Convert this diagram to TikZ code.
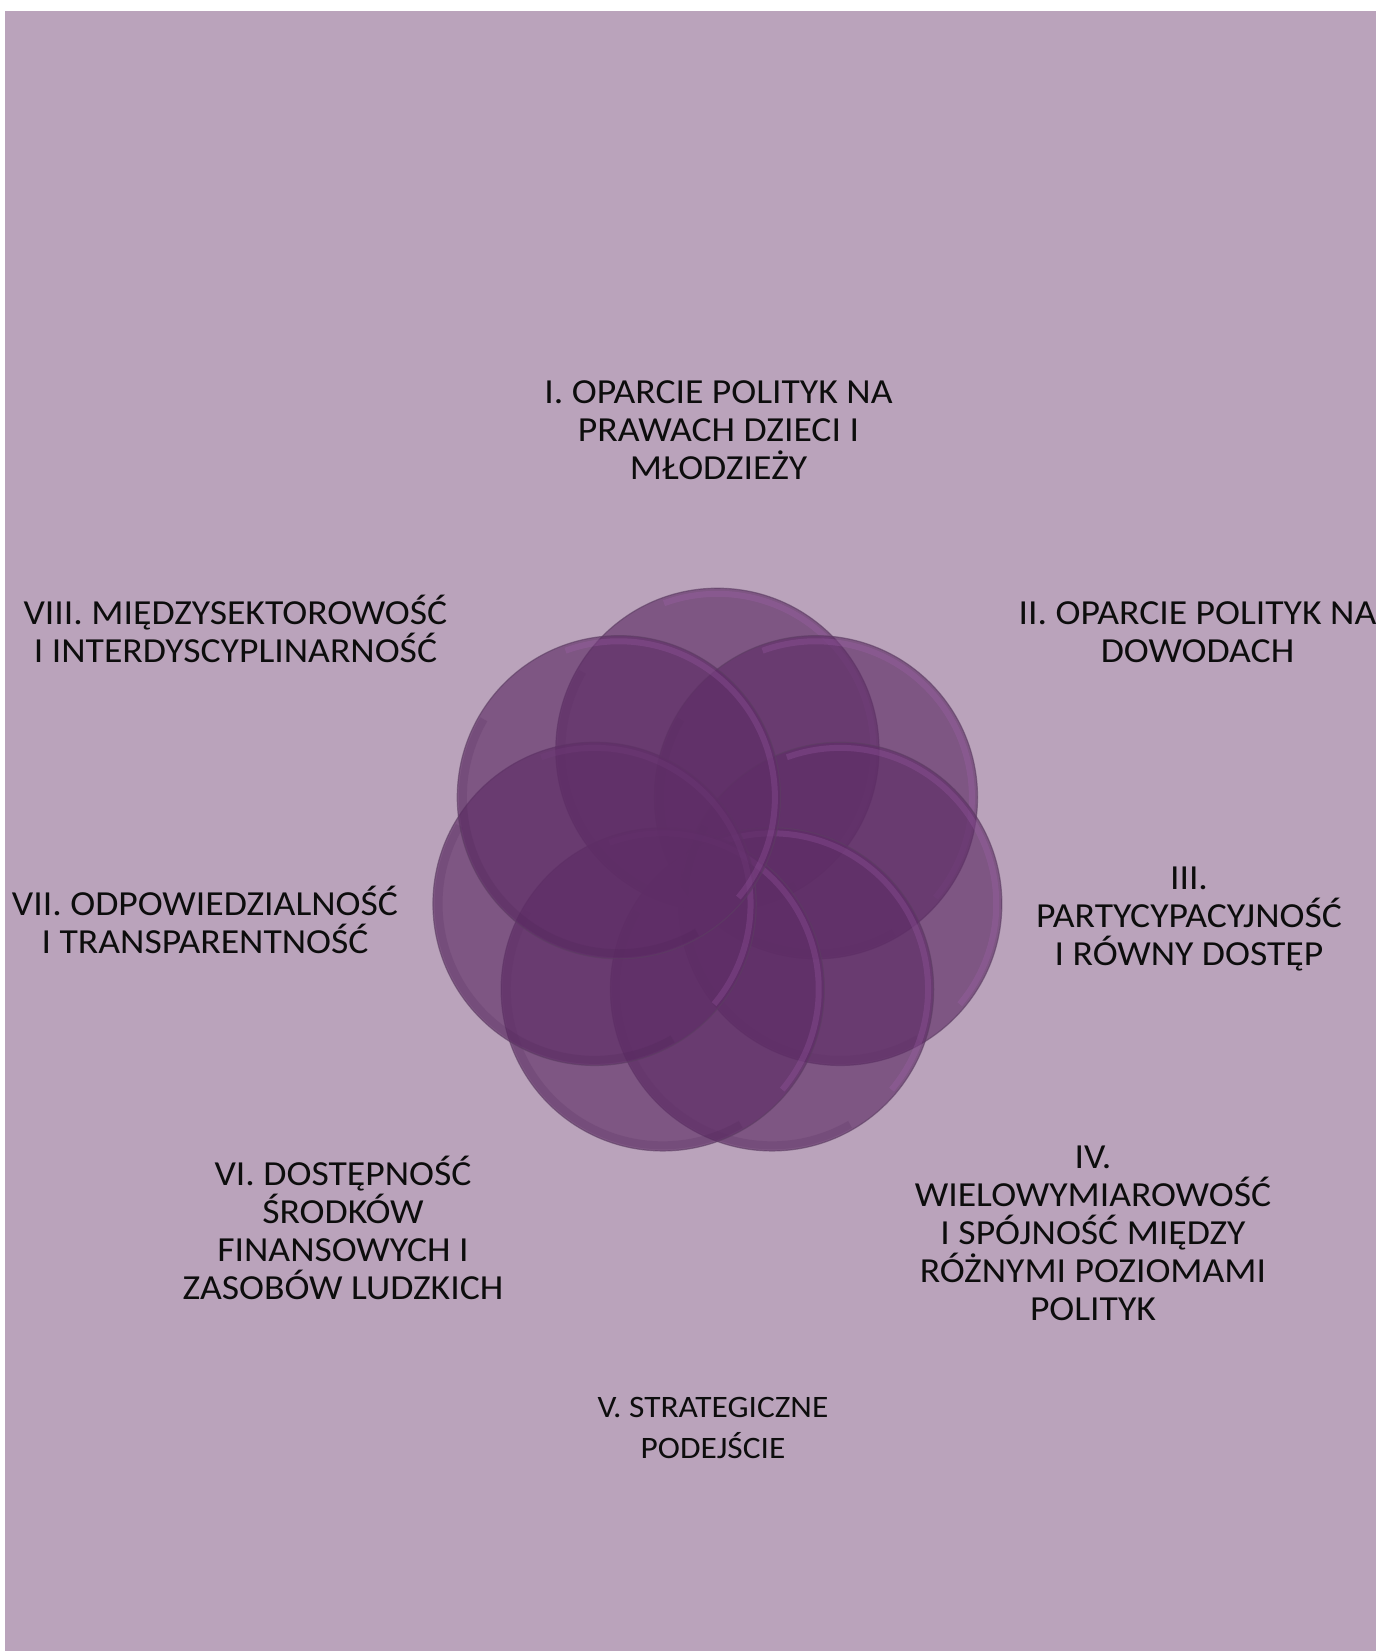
\documentclass[tikz,border=0pt]{standalone}
\usepackage{fontspec}
\setmainfont{Carlito}[FakeStretch=1.07]
\usepackage{tikz}
\usetikzlibrary{calc}
\definecolor{slidebg}{RGB}{186,163,187}
\definecolor{petalfill}{RGB}{94,45,102}
\definecolor{petalrim}{RGB}{92,62,98}
\definecolor{petalglow}{RGB}{176,104,188}
\definecolor{petalshade}{RGB}{70,30,78}
\definecolor{labeltext}{RGB}{13,13,13}

\begin{document}
\begin{tikzpicture}[
    x=0.5pt, y=-0.5pt,
    petal/.style={circle, minimum size=161.6pt, inner sep=0pt, fill=petalfill, fill opacity=0.65,
        draw=petalrim, draw opacity=0.6, line width=0.6pt,
        path picture={
            \draw[petalglow, opacity=0.22, line width=3pt]
                ([shift={(-40:78pt)}]path picture bounding box.center) arc[start angle=-40, end angle=110, radius=78pt];
            \draw[petalshade, opacity=0.15, line width=4pt]
                ([shift={(150:78pt)}]path picture bounding box.center) arc[start angle=150, end angle=300, radius=78pt];
        }},
    caption/.style={align=center, anchor=base, inner sep=0pt, text=labeltext, font=\fontsize{17.6}{19}\selectfont}
]
\useasboundingbox (0,0) rectangle (1376,1651);
\fill[white] (0,0) rectangle (1376,1651);
\fill[slidebg] (5,11) rectangle (1376,1651);

% seven overlapping circles round the hub
\coordinate (hub) at (717.4,875.8);
\node[petal] (p1) at ([shift={(90:63pt)}]hub) {};
\node[petal] (p2) at ([shift={(38.57:63pt)}]hub) {};
\node[petal] (p3) at ([shift={(-12.86:63pt)}]hub) {};
\node[petal] (p4) at ([shift={(-64.29:63pt)}]hub) {};
\node[petal] (p5) at ([shift={(-115.71:63pt)}]hub) {};
\node[petal] (p6) at ([shift={(-167.14:63pt)}]hub) {};
\node[petal] (p7) at ([shift={(141.43:63pt)}]hub) {};

% labels (placed at the baseline of their last line)
\node[caption] (l1) at (718.5,479) {I. OPARCIE POLITYK NA\\PRAWACH DZIECI I\\MŁODZIEŻY};
\node[caption] (l2) at (1197.5,662) {II. OPARCIE POLITYK NA\\DOWODACH};
\node[caption] (l3) at (1189,965) {III.\\PARTYCYPACYJNOŚĆ\\I RÓWNY DOSTĘP};
\node[caption] (l4) at (1093,1320) {IV.\\WIELOWYMIAROWOŚĆ\\I SPÓJNOŚĆ MIĘDZY\\RÓŻNYMI POZIOMAMI\\POLITYK};
\node[caption, font=\fontsize{15.6}{20.5}\selectfont] (l5) at (713,1458) {V. STRATEGICZNE\\PODEJŚCIE};
\node[caption] (l6) at (343,1299) {VI. DOSTĘPNOŚĆ\\ŚRODKÓW\\FINANSOWYCH I\\ZASOBÓW LUDZKICH};
\node[caption] (l7) at (205,953) {VII. ODPOWIEDZIALNOŚĆ\\I TRANSPARENTNOŚĆ};
\node[caption] (l8) at (235.5,662) {VIII. MIĘDZYSEKTOROWOŚĆ\\I INTERDYSCYPLINARNOŚĆ};
\end{tikzpicture}
\end{document}
